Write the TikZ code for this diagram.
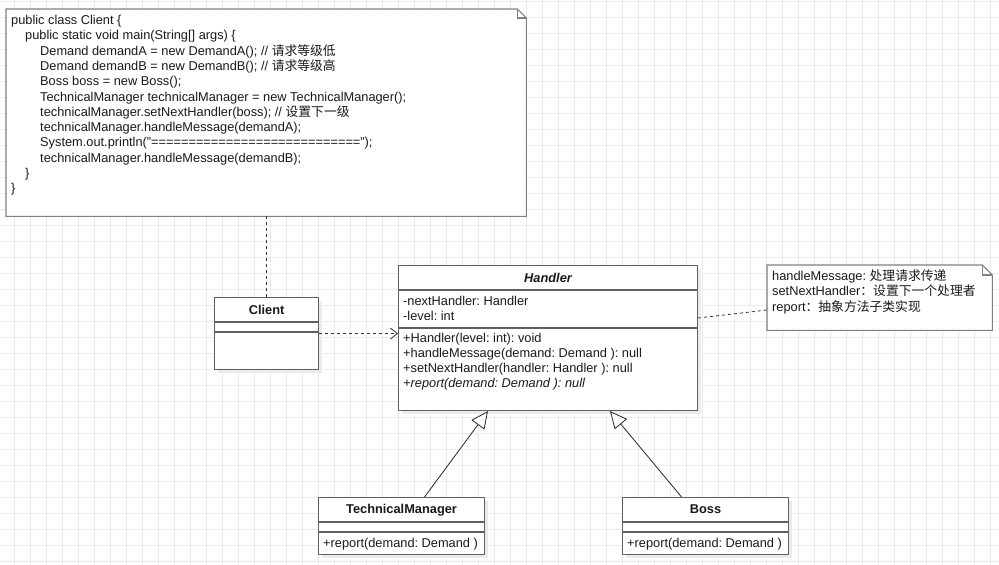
\documentclass[tikz,border=0pt]{standalone}
\usepackage{fontspec}
\setmainfont{Liberation Sans}
\newfontfamily\cjk{Noto Sans CJK SC}
\usetikzlibrary{arrows.meta,calc,shadows}
\definecolor{gridc}{HTML}{EBEBEB}
\definecolor{linec}{HTML}{606060}
\definecolor{notec}{HTML}{808080}
\definecolor{txtc}{HTML}{1A1A1A}
\frenchspacing
\begin{document}
\begin{tikzpicture}[x=1pt,y=-1pt,
  txt/.style={anchor=base west,inner sep=0pt,text=txtc,font=\fontsize{12.8}{15}\selectfont},
  ttl/.style={anchor=base,inner sep=0pt,text=txtc,font=\fontsize{12.8}{15}\selectfont\bfseries},
  umlbox/.style={draw=linec,line width=1.1pt,fill=white,inner sep=0pt,anchor=north west,
     drop shadow={shadow xshift=3pt,shadow yshift=-3pt,fill=black!8,opacity=1}},
  sep/.style={draw=linec,line width=1.1pt},
  notebox/.style={inner sep=0pt,anchor=north west},
  noteline/.style={draw=notec,line width=1.1pt,fill=white},
  dashline/.style={draw=black!80,line width=0.8pt,dash pattern=on 3pt off 3pt},
  dep/.style={dashline,-{Straight Barb[length=7pt,width=11pt,line width=0.8pt]}},
  inh/.style={draw=black!85,line width=0.8pt,-{Triangle[open,length=17pt,width=16pt,fill=white,line width=0.8pt]}}]
\useasboundingbox (0,0) rectangle (999,565);
\fill[white] (0,0) rectangle (999,565);
\foreach \x in {14,30,...,999} \draw[gridc,line width=0.7pt] (\x,0) -- (\x,565);
\foreach \y in {1,17,...,565} \draw[gridc,line width=0.7pt] (0,\y) -- (999,\y);

% ---- code note ----
\node[notebox,minimum width=520pt,minimum height=207pt] (note1) at (6,9) {};
\draw[noteline] (note1.north west) -- ($(note1.north east)+(-9,0)$) -- ($(note1.north east)+(0,9)$)
  -- (note1.south east) -- (note1.south west) -- cycle;
\draw[draw=notec,line width=1.1pt] ($(note1.north east)+(-9,0)$) -- ($(note1.north east)+(-9,9)$) -- ($(note1.north east)+(0,9)$);
\node[txt] (c1) at (11,24.5) {public class Client \{};
\node[txt] (c2) at (25,39.8) {public static void main(String[] args) \{};
\node[txt] (c3) at (40,55.1) {Demand demandA = new DemandA(); // {\cjk 请求等级低}};
\node[txt] (c4) at (40,70.4) {Demand demandB = new DemandB(); // {\cjk 请求等级高}};
\node[txt] (c5) at (40,85.7) {Boss boss = new Boss();};
\node[txt] (c6) at (40,101) {TechnicalManager technicalManager = new TechnicalManager();};
\node[txt] (c7) at (40,116.3) {technicalManager.setNextHandler(boss); // {\cjk 设置下一级}};
\node[txt] (c8) at (40,131.6) {technicalManager.handleMessage(demandA);};
\node[txt] (c9) at (40,146.9) {System.out.println("============================");};
\node[txt] (c10) at (40,162.2) {technicalManager.handleMessage(demandB);};
\node[txt] (c11) at (25,177.5) {\}};
\node[txt] (c12) at (11,192.8) {\}};

% ---- Client ----
\node[umlbox,minimum width=104pt,minimum height=72pt] (client) at (214,297) {};
\draw[sep] ($(client.north west)+(0,25)$) -- ($(client.north east)+(0,25)$);
\draw[sep] ($(client.north west)+(0,35)$) -- ($(client.north east)+(0,35)$);
\node[ttl] (clientT) at ($(client.north)+(0,17)$) {Client};

% ---- Handler ----
\node[umlbox,minimum width=299pt,minimum height=145pt] (handler) at (398,265) {};
\draw[sep] ($(handler.north west)+(0,25)$) -- ($(handler.north east)+(0,25)$);
\draw[sep] ($(handler.north west)+(0,63)$) -- ($(handler.north east)+(0,63)$);
\node[ttl,font=\fontsize{12.8}{15}\selectfont\bfseries\itshape] (handlerT) at ($(handler.north)+(0,17.3)$) {Handler};
\node[txt] (h1) at (403,305) {-nextHandler: Handler};
\node[txt] (h2) at (403,320) {-level: int};
\node[txt] (h3) at (403,342.7) {+Handler(level: int): void};
\node[txt] (h4) at (403,357.7) {+handleMessage(demand: Demand ): null};
\node[txt] (h5) at (403,372.7) {+setNextHandler(handler: Handler ): null};
\node[txt,font=\fontsize{12.8}{15}\selectfont\itshape] (h6) at (403,387.7) {+report(demand: Demand ): null};

% ---- TechnicalManager ----
\node[umlbox,minimum width=166pt,minimum height=57pt] (tm) at (318,497) {};
\draw[sep] ($(tm.north west)+(0,25)$) -- ($(tm.north east)+(0,25)$);
\draw[sep] ($(tm.north west)+(0,35)$) -- ($(tm.north east)+(0,35)$);
\node[ttl] (tmT) at ($(tm.north)+(0,16.7)$) {TechnicalManager};
\node[txt] (tm1) at (323,547.7) {+report(demand: Demand )};

% ---- Boss ----
\node[umlbox,minimum width=166pt,minimum height=57pt] (boss) at (622,497) {};
\draw[sep] ($(boss.north west)+(0,25)$) -- ($(boss.north east)+(0,25)$);
\draw[sep] ($(boss.north west)+(0,35)$) -- ($(boss.north east)+(0,35)$);
\node[ttl] (bossT) at ($(boss.north)+(0,16.7)$) {Boss};
\node[txt] (b1) at (627,547.7) {+report(demand: Demand )};

% ---- handler note ----
\node[notebox,minimum width=225pt,minimum height=65pt] (note2) at (767,265) {};
\draw[noteline] (note2.north west) -- ($(note2.north east)+(-10,0)$) -- ($(note2.north east)+(0,10)$)
  -- (note2.south east) -- (note2.south west) -- cycle;
\draw[draw=notec,line width=1.1pt] ($(note2.north east)+(-10,0)$) -- ($(note2.north east)+(-10,10)$) -- ($(note2.north east)+(0,10)$);
\node[txt] (n1) at (772,280) {handleMessage: {\cjk 处理请求传递}};
\node[txt] (n2) at (772,295.7) {setNextHandler{\cjk ：设置下一个处理者}};
\node[txt] (n3) at (772,311) {report{\cjk ：抽象方法子类实现}};

% ---- connectors ----
\draw[dashline] (client.north) -- (client.north |- note1.south);
\draw[dep] (client.east) -- (client.east -| handler.west);
\draw[dashline] ($(handler.north east)+(0,53)$) -- ($(note2.north west)+(0,45)$);
\draw[inh] ($(tm.north)+(23,0)$) -- ($(handler.south west)+(90,0)$);
\draw[inh] ($(boss.north)+(-24,0)$) -- ($(handler.south west)+(212,0)$);
\end{tikzpicture}
\end{document}
